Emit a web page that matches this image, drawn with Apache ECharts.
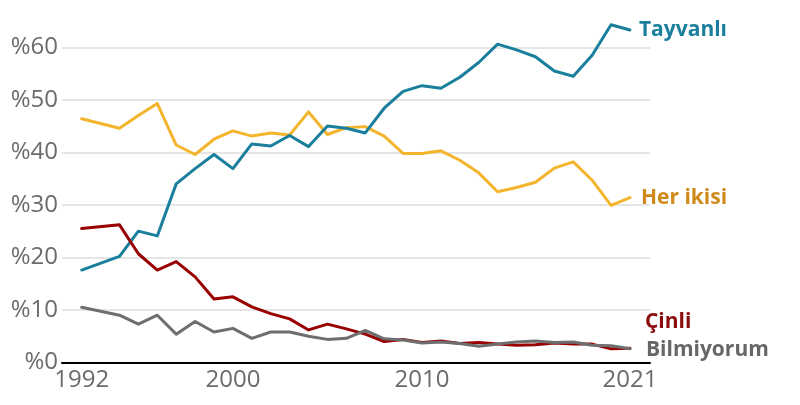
<!DOCTYPE html>
<html><head><meta charset="utf-8">
<script src="https://cdn.jsdelivr.net/npm/echarts@6/dist/echarts.min.js"></script>
<style>html,body{margin:0;padding:0;background:#fff}#c{width:800px;height:405px}</style>
</head><body><div id="c"></div>
<script>
const years = [1992,1994,1995,1996,1997,1998,1999,2000,2001,2002,2003,2004,2005,2006,2007,2008,2009,2010,2011,2012,2013,2014,2015,2016,2017,2018,2019,2020,2021];
const taiwanese = [17.6,20.2,25.0,24.1,34.0,36.9,39.6,36.9,41.6,41.2,43.2,41.1,45.0,44.6,43.7,48.4,51.6,52.7,52.2,54.3,57.1,60.6,59.5,58.2,55.5,54.5,58.5,64.3,63.3];
const both = [46.4,44.6,47.0,49.3,41.4,39.6,42.5,44.1,43.1,43.7,43.3,47.7,43.4,44.7,44.9,43.1,39.8,39.8,40.3,38.5,36.1,32.5,33.3,34.3,37.0,38.2,34.7,29.9,31.4];
const chinese = [25.5,26.2,20.7,17.6,19.2,16.3,12.1,12.5,10.6,9.3,8.3,6.2,7.3,6.4,5.4,4.0,4.4,3.8,4.1,3.6,3.8,3.5,3.3,3.4,3.7,3.5,3.5,2.6,2.7];
const unknown = [10.5,9.0,7.3,9.0,5.4,7.8,5.8,6.5,4.6,5.8,5.8,5.0,4.4,4.6,6.1,4.5,4.3,3.7,3.9,3.6,3.1,3.5,3.9,4.1,3.8,3.9,3.3,3.2,2.6];
const xTickLabels = [1992,2000,2010,2021];
const yTicks = [0,10,20,30,40,50,60];
const names = ['Tayvanlı','Her ikisi','Çinli','Bilmiyorum'];

const pairs = arr => years.map((y,i)=>[y,arr[i]]);
const font = '"Open Sans", "Noto Sans", sans-serif';
function mk(name, arr, color, labelColor, offset){
  return {
    name, type:'line', data: pairs(arr), showSymbol:false, symbol:'none', clip:false,
    lineStyle:{color, width:3, join:'round', cap:'round'},
    itemStyle:{color},
    emphasis:{disabled:true},
    endLabel:{show:true, formatter:'{a}', color:labelColor, fontFamily:font, fontWeight:'bold', fontSize:21, distance:9, offset:offset||[0,0]}
  };
}
const chart = echarts.init(document.getElementById('c'), null, {renderer:'canvas'});
chart.setOption({
  animation:false,
  backgroundColor:'#fff',
  grid:{left:62, right:150, top:47.3, bottom:42.5, containLabel:false},
  xAxis:{type:'value', min:1990.96, max:2022.06,
    axisLine:{show:true, lineStyle:{color:'#000', width:2}},
    axisTick:{show:false}, splitLine:{show:false},
    axisLabel:{customValues:xTickLabels, formatter:v=>String(Math.round(v)), color:'#6b6b6b', fontFamily:font, fontSize:24, margin:6}
  },
  yAxis:{type:'value', min:0, max:60, interval:10,
    axisLine:{show:false}, axisTick:{show:false},
    splitLine:{lineStyle:{color:'#dcdcdc', width:1.5}},
    axisLabel:{customValues:yTicks, formatter:'%{value}', color:'#6b6b6b', fontFamily:font, fontSize:24, margin:4}
  },
  series:[
    mk(names[1], both, '#f4b52d', '#d0891b', [2,0]),
    mk(names[0], taiwanese, '#1a7f9c', '#1a7f9c', [0,0]),
    mk(names[2], chinese, '#990000', '#8b0c0c', [6,-26]),
    mk(names[3], unknown, '#6e6e6e', '#666666', [7,1])
  ]
});
</script></body></html>
